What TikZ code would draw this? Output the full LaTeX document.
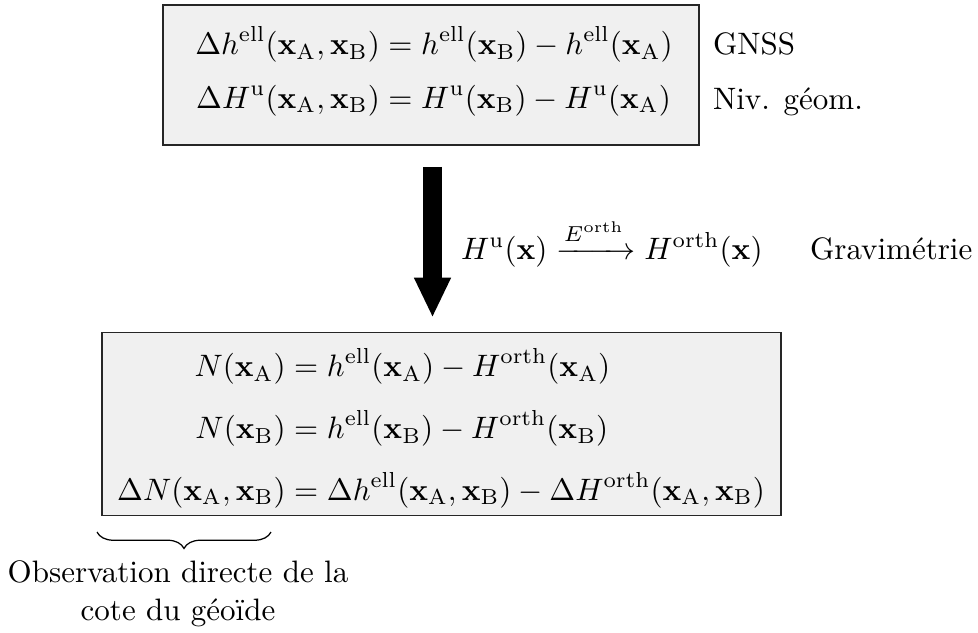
\documentclass[tikz,border=0pt]{standalone}
\usepackage{amsmath}
\usetikzlibrary{decorations.pathreplacing,arrows.meta}
\newcommand{\myxa}{\mathbf{x}_{\mathrm{A}}}
\newcommand{\myxb}{\mathbf{x}_{\mathrm{B}}}
\newcommand{\myell}{^{\mathrm{ell}}}
\newcommand{\myorth}{^{\mathrm{orth}}}
\begin{document}
\begin{tikzpicture}[x=0.3225pt,y=-0.3225pt,
  box/.style={draw=black!85, fill=black!6, line width=0.6pt, inner sep=0pt},
  plain/.style={inner sep=0pt, outer sep=0pt},
  bigarrow/.style={line width=6.1pt, -{Triangle[length=12.9pt,width=11pt]}},
  bracestyle/.style={decorate, decoration={brace, mirror, amplitude=5.3pt}, line width=0.4pt}]
\useasboundingbox (0,0) rectangle (978,632);
% top box
\node[box, minimum width=536*0.3225pt, minimum height=140*0.3225pt] (top) at (431,75) {};
\node[plain] (toptxt) at (434,73) {$\setlength{\jot}{5.2pt}\begin{aligned}
 \Delta h\myell(\myxa,\myxb) &= h\myell(\myxb) - h\myell(\myxa)\\
 \Delta H^{\mathrm{u}}(\myxa,\myxb) &= H^{\mathrm{u}}(\myxb) - H^{\mathrm{u}}(\myxa)
 \end{aligned}$};
\node[plain, anchor=base west] (gnss) at (713,54) {GNSS};
\node[plain, anchor=base west] (niv) at (713,109) {Niv. géom.};
% bottom box
\node[box, minimum width=679*0.3225pt, minimum height=183*0.3225pt] (bot) at (441.5,424) {};
\node[plain] (bottxt) at (441,430) {$\setlength{\jot}{6.3pt}\begin{aligned}
 N(\myxa) &= h\myell(\myxa) - H\myorth(\myxa)\\
 N(\myxb) &= h\myell(\myxb) - H\myorth(\myxb)\\
 \Delta N(\myxa,\myxb) &= \Delta h\myell(\myxa,\myxb) - \Delta H\myorth(\myxa,\myxb)
 \end{aligned}$};
% big arrow
\coordinate (ax) at (432.5,0);
\draw[bigarrow, shorten <=21*0.3225pt, shorten >=14*0.3225pt] (top.south -| ax) -- (bot.north -| ax);
% middle
\node[plain, anchor=base west] (conv) at (461,259) {$H^{\mathrm{u}}(\mathbf{x}) \xrightarrow{E\myorth} H\myorth(\mathbf{x})$};
\node[plain, anchor=base west] (grav) at (810,259) {Gravimétrie};
% brace
\coordinate (bl) at (97,532);
\coordinate (br) at (271,532);
\draw[bracestyle] (bl) -- (br);
\node[plain, align=center, anchor=north] (obs) at (178,561) {Observation directe de la\\cote du géoïde};
\end{tikzpicture}
\end{document}
